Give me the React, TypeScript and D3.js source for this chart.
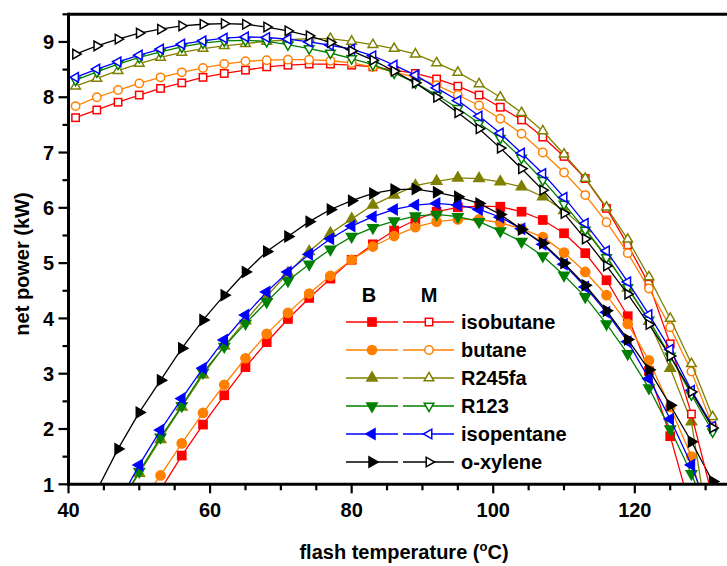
import React from 'react';
import * as d3 from 'd3';

// flash temperature (°C) of every data point
const temps = [41, 44, 47, 50, 53, 56, 59, 62, 65, 68, 71, 74, 77, 80, 83, 86, 89, 92, 95, 98, 101, 104, 107, 110, 113, 116, 119, 122, 125, 128, 131];

// B series (solid markers)
const isobutaneB = [null, null, null, null, 0.9, 1.52, 2.08, 2.61, 3.12, 3.57, 3.99, 4.37, 4.72, 5.06, 5.34, 5.59, 5.78, 5.93, 6.01, 6.03, 6.02, 5.93, 5.78, 5.54, 5.18, 4.69, 4.04, 3.05, 1.87, 0.5, null];
const butaneB = [null, null, null, 0.63, 1.16, 1.74, 2.29, 2.8, 3.28, 3.72, 4.1, 4.45, 4.77, 5.06, 5.3, 5.49, 5.65, 5.75, 5.79, 5.79, 5.73, 5.62, 5.47, 5.19, 4.84, 4.42, 3.9, 3.24, 2.4, 1.5, -0.1];
const r245faB = [null, null, 0.6, 1.2, 1.81, 2.4, 2.98, 3.5, 3.96, 4.4, 4.82, 5.21, 5.54, 5.8, 6.05, 6.23, 6.4, 6.48, 6.54, 6.53, 6.47, 6.38, 6.2, 5.95, 5.62, 5.12, 4.55, 3.95, 3.1, 2.13, -0.3];
const r123B = [null, null, 0.6, 1.23, 1.85, 2.42, 3.02, 3.49, 3.91, 4.3, 4.68, 4.98, 5.25, 5.48, 5.64, 5.76, 5.85, 5.88, 5.84, 5.75, 5.58, 5.39, 5.13, 4.78, 4.39, 3.9, 3.36, 2.74, 2.0, 1.19, 0.2];
const isopentaneB = [null, null, 0.65, 1.35, 1.98, 2.55, 3.1, 3.61, 4.06, 4.48, 4.84, 5.16, 5.44, 5.67, 5.84, 5.97, 6.05, 6.08, 6.05, 5.97, 5.83, 5.62, 5.34, 4.98, 4.57, 4.11, 3.58, 2.91, 2.18, 1.35, 0.3];
const oxyleneB = [null, 0.89, 1.64, 2.3, 2.88, 3.46, 3.97, 4.42, 4.84, 5.21, 5.48, 5.75, 5.97, 6.13, 6.26, 6.33, 6.34, 6.28, 6.2, 6.08, 5.88, 5.61, 5.36, 5.0, 4.6, 4.14, 3.62, 3.07, 2.43, 1.77, 1.05];

// M series (open markers)
const isobutaneM = [7.63, 7.77, 7.91, 8.04, 8.16, 8.26, 8.36, 8.43, 8.49, 8.55, 8.58, 8.6, 8.6, 8.58, 8.55, 8.49, 8.43, 8.33, 8.2, 8.04, 7.82, 7.59, 7.28, 6.93, 6.53, 5.99, 5.33, 4.62, 3.54, 2.27, 0.75];
const butaneM = [7.84, 8.0, 8.13, 8.25, 8.36, 8.45, 8.53, 8.6, 8.65, 8.67, 8.68, 8.68, 8.66, 8.62, 8.55, 8.46, 8.36, 8.22, 8.04, 7.85, 7.61, 7.34, 7.0, 6.64, 6.23, 5.74, 5.18, 4.54, 3.84, 3.04, 2.05];
const r245faM = [8.2, 8.34, 8.48, 8.61, 8.72, 8.81, 8.88, 8.93, 8.97, 9.01, 9.04, 9.06, 9.06, 9.01, 8.95, 8.88, 8.78, 8.62, 8.45, 8.24, 8.0, 7.72, 7.39, 6.97, 6.53, 6.01, 5.43, 4.75, 4.0, 3.18, 2.22];
const r123M = [8.31, 8.46, 8.6, 8.72, 8.82, 8.91, 8.98, 9.02, 9.03, 9.01, 8.95, 8.88, 8.8, 8.7, 8.59, 8.44, 8.26, 8.04, 7.8, 7.53, 7.26, 6.9, 6.5, 6.07, 5.6, 5.1, 4.56, 3.97, 3.32, 2.62, 1.95];
const isopentaneM = [8.36, 8.51, 8.64, 8.76, 8.87, 8.96, 9.02, 9.07, 9.09, 9.08, 9.05, 9.0, 8.94, 8.87, 8.75, 8.58, 8.4, 8.17, 7.94, 7.66, 7.35, 6.99, 6.62, 6.19, 5.72, 5.22, 4.66, 4.07, 3.44, 2.7, 2.05];
const oxyleneM = [8.78, 8.93, 9.05, 9.16, 9.23, 9.29, 9.32, 9.33, 9.32, 9.27, 9.2, 9.11, 8.99, 8.84, 8.67, 8.47, 8.26, 8.0, 7.72, 7.43, 7.08, 6.71, 6.32, 5.9, 5.44, 4.95, 4.44, 3.89, 3.32, 2.67, 2.02];

const fluidNames = ['isobutane', 'butane', 'R245fa', 'R123', 'isopentane', 'o-xylene'];
const fluidColors = ['#FF0000', '#FF8000', '#808000', '#008000', '#0000FF', '#000000'];
const fluidShapes = ['square', 'circle', 'up', 'down', 'left', 'right'];
const bSeries = [isobutaneB, butaneB, r245faB, r123B, isopentaneB, oxyleneB];
const mSeries = [isobutaneM, butaneM, r245faM, r123M, isopentaneM, oxyleneM];

const xMajorTicks = [40, 60, 80, 100, 120];
const xMinorTicks = [45, 50, 55, 65, 70, 75, 85, 90, 95, 105, 110, 115, 125, 130];
const yMajorTicks = [1, 2, 3, 4, 5, 6, 7, 8, 9];
const yMinorTicks = [1.5, 2.5, 3.5, 4.5, 5.5, 6.5, 7.5, 8.5, 9.5];

const W = 727;
const H = 566;
const left = 68.5;
const right = 741;
const top = 14.3;
const bottom = 484.3;

const x = d3.scaleLinear().domain([40, 135]).range([left, right]);
const y = d3.scaleLinear().domain([1, 9.5]).range([bottom, top]);

const FONT = '"Liberation Sans", Arial, Helvetica, sans-serif';

function triPath(a: number) {
  const h = a * 0.866;
  return `M0,${-h * 2 / 3}L${a / 2},${h / 3}L${-a / 2},${h / 3}Z`;
}

function Marker({ shape, color, open, cx, cy }: { shape: string; color: string; open: boolean; cx: number; cy: number }) {
  const fill = open ? '#fff' : color;
  const sw = 1.5;
  if (shape === 'circle') {
    return <circle cx={cx} cy={cy} r={open ? 4.2 : 4.6} fill={fill} stroke={color} strokeWidth={sw} />;
  }
  if (shape === 'square') {
    const s = open ? 7.4 : 8.2;
    return <rect x={cx - s / 2} y={cy - s / 2} width={s} height={s} fill={fill} stroke={color} strokeWidth={sw} />;
  }
  const rot = shape === 'up' ? 0 : shape === 'down' ? 180 : shape === 'left' ? -90 : 90;
  const a = open ? 9.6 : 10.4;
  return <path d={triPath(a)} transform={`translate(${cx},${cy}) rotate(${rot})`} fill={fill} stroke={color} strokeWidth={sw} strokeLinejoin="miter" />;
}

function SeriesDraw({ values, color, shape, open }: { values: (number | null)[]; color: string; shape: string; open: boolean }) {
  const pts = temps.map((t, i) => ({ t, v: values[i] })).filter((p) => p.v !== null) as { t: number; v: number }[];
  const line = d3.line<{ t: number; v: number }>().x((d) => x(d.t)).y((d) => y(d.v));
  return (
    <g>
      <path d={line(pts) || ''} fill="none" stroke={color} strokeWidth={1.3} />
      {pts.map((p, i) => (
        <Marker key={i} shape={shape} color={color} open={open} cx={x(p.t)} cy={y(p.v)} />
      ))}
    </g>
  );
}

export default function App() {
  const legendY0 = 322;
  const legendDy = 28;
  return (
    <svg width={W} height={H} style={{ position: 'absolute', left: 0, top: 0, background: '#fff' }} fontFamily={FONT}>
      <rect x={0} y={0} width={W} height={H} fill="#fff" />
      <defs>
        <clipPath id="plotClip">
          <rect x={left} y={top} width={right - left} height={bottom - top} />
        </clipPath>
      </defs>
      <g clipPath="url(#plotClip)">
        {bSeries.map((s, i) => (
          <SeriesDraw key={'b' + i} values={s} color={fluidColors[i]} shape={fluidShapes[i]} open={false} />
        ))}
        {mSeries.map((s, i) => (
          <SeriesDraw key={'m' + i} values={s} color={fluidColors[i]} shape={fluidShapes[i]} open={true} />
        ))}
      </g>

      {/* legend */}
      <text x={369} y={302} textAnchor="middle" fontWeight="bold" fontSize={20}>B</text>
      <text x={429} y={302} textAnchor="middle" fontWeight="bold" fontSize={20}>M</text>
      {fluidNames.map((n, i) => {
        const ly = legendY0 + i * legendDy;
        return (
          <g key={n}>
            <line x1={346} x2={398} y1={ly} y2={ly} stroke={fluidColors[i]} strokeWidth={1.3} />
            <Marker shape={fluidShapes[i]} color={fluidColors[i]} open={false} cx={372} cy={ly} />
            <line x1={403} x2={454} y1={ly} y2={ly} stroke={fluidColors[i]} strokeWidth={1.3} />
            <Marker shape={fluidShapes[i]} color={fluidColors[i]} open={true} cx={429} cy={ly} />
            <text x={461} y={ly + 7} fontWeight="bold" fontSize={20}>{n}</text>
          </g>
        );
      })}

      {/* axes */}
      <line x1={left} x2={W} y1={top} y2={top} stroke="#000" strokeWidth={3} />
      <line x1={left} x2={W} y1={bottom} y2={bottom} stroke="#000" strokeWidth={3} />
      <line x1={left} x2={left} y1={top - 1.5} y2={bottom + 1.5} stroke="#000" strokeWidth={3} />
      {xMajorTicks.map((t) => (
        <g key={'xM' + t}>
          <line x1={x(t)} x2={x(t)} y1={bottom} y2={bottom + 9} stroke="#000" strokeWidth={2.2} />
          <text x={x(t)} y={517} textAnchor="middle" fontWeight="bold" fontSize={20}>{t}</text>
        </g>
      ))}
      {xMinorTicks.map((t) => (
        <line key={'xm' + t} x1={x(t)} x2={x(t)} y1={bottom} y2={bottom + 6} stroke="#000" strokeWidth={2.2} />
      ))}
      {yMajorTicks.map((t) => (
        <g key={'yM' + t}>
          <line x1={left - 10} x2={left} y1={y(t)} y2={y(t)} stroke="#000" strokeWidth={2.2} />
          <text x={54} y={y(t)} dy="0.36em" textAnchor="end" fontWeight="bold" fontSize={20}>{t}</text>
        </g>
      ))}
      {yMinorTicks.map((t) => (
        <line key={'ym' + t} x1={left - 6} x2={left} y1={y(t)} y2={y(t)} stroke="#000" strokeWidth={2.2} />
      ))}

      {/* axis titles */}
      <text x={404} y={559} textAnchor="middle" fontWeight="bold" fontSize={20}>
        flash temperature (<tspan fontSize={13} dy={-8}>o</tspan><tspan dy={8}>C)</tspan>
      </text>
      <text transform="translate(29,264) rotate(-90)" textAnchor="middle" fontWeight="bold" fontSize={20}>
        net power (kW)
      </text>
    </svg>
  );
}
